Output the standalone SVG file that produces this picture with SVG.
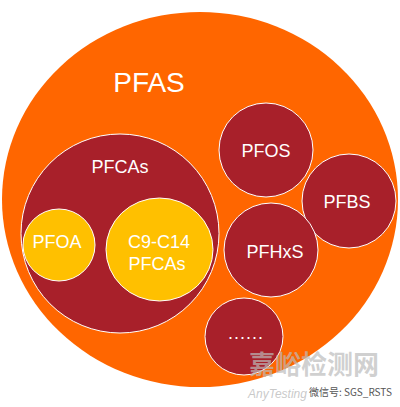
<svg xmlns="http://www.w3.org/2000/svg" width="400" height="407" viewBox="0 0 400 407">
<style>
.lbl{font-family:"Liberation Sans",Arial,sans-serif;fill:#fff;text-anchor:middle;font-size:18px}
.red{fill:#A8202A;stroke:#fff;stroke-width:1}
.yel{fill:#FFC000;stroke:#fff;stroke-width:1}
</style>
<rect width="400" height="407" fill="#fff"/>
<g id="pfas">
<ellipse cx="200" cy="199.5" rx="198" ry="187.5" fill="#FF6600"/>
<text x="149" y="92" class="lbl" style="font-size:28px">PFAS</text>
</g>
<g id="pfcas">
<ellipse cx="120" cy="233.5" rx="99" ry="99.5" class="red"/>
<text x="120" y="173" class="lbl">PFCAs</text>
</g>
<g id="pfoa">
<circle cx="59" cy="245" r="36" class="yel"/>
<text x="57" y="248" class="lbl">PFOA</text>
</g>
<g id="c9c14">
<ellipse cx="159.5" cy="249.5" rx="53.5" ry="51.5" class="yel"/>
<text x="159" y="248" class="lbl">C9-C14</text>
<text x="157" y="270" class="lbl">PFCAs</text>
</g>
<g id="pfos">
<circle cx="266" cy="150" r="47" class="red"/>
<text x="266" y="157" class="lbl">PFOS</text>
</g>
<g id="pfbs">
<circle cx="349" cy="201" r="47" class="red"/>
<text x="347" y="208" class="lbl">PFBS</text>
</g>
<g id="pfhxs">
<circle cx="271" cy="250" r="47" class="red"/>
<text x="275" y="258" class="lbl">PFHxS</text>
</g>
<g id="more">
<ellipse cx="244" cy="336.5" rx="39" ry="38.5" class="red"/>
<text x="246" y="339" class="lbl" style="letter-spacing:1px">......</text>
</g>
<g id="watermark" font-family="'Noto Sans CJK SC',sans-serif">
<text x="249" y="374" font-size="26" fill="#bbb" fill-opacity="0.7" font-weight="bold">嘉峪检测网</text>
<text x="248" y="398" font-size="12" fill="#bbb" fill-opacity="0.8" font-style="italic" font-family="'Liberation Sans',sans-serif">AnyTesting</text>
<text x="309" y="396" font-size="10" fill="#555">微信号: SGS_RSTS</text>
</g>
</svg>
